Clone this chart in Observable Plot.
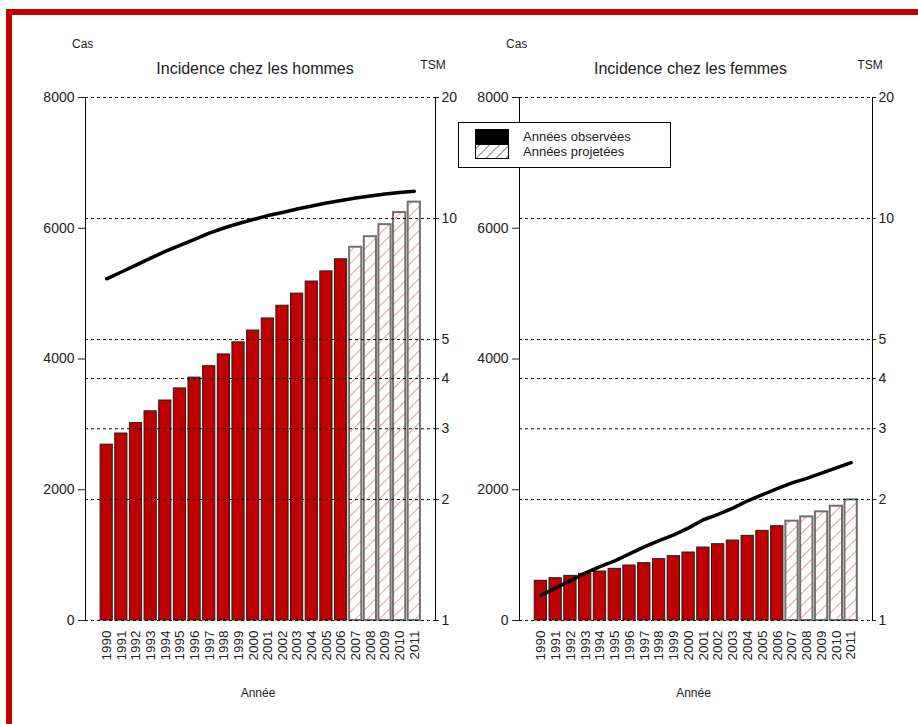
<!DOCTYPE html>
<html lang="fr">
<head>
<meta charset="utf-8">
<script src="https://cdn.jsdelivr.net/npm/d3@7"></script>
<script src="https://cdn.jsdelivr.net/npm/@observablehq/plot@0.6"></script>
<style>
  html, body { margin: 0; padding: 0; background: #fff; }
  #page { position: relative; width: 918px; height: 724px; overflow: hidden;
          font-family: "Liberation Sans", Arial, sans-serif; color: #222; }
  .layer { position: absolute; left: 0; top: 0; }
  .lbl { position: absolute; line-height: 1; white-space: nowrap; }
  .frame-top { position: absolute; left: 6px; top: 9px; right: 0; height: 6px; background: #c00000; }
  .frame-left { position: absolute; left: 6px; top: 9px; bottom: 0; width: 6px; background: #c00000; }
  #legend { position: absolute; left: 458px; top: 122px; width: 211px; height: 44px;
            border: 1px solid #000; background: #fff; }
  #legend svg { position: absolute; left: 16px; top: 6px; }
  #legend .t { position: absolute; left: 64px; font-size: 13px; line-height: 1; }
</style>
</head>
<body>
<div id="page">
  <svg width="0" height="0" style="position:absolute">
    <defs>
      <pattern id="hatch-red" patternUnits="userSpaceOnUse" width="8.5" height="8.5" patternTransform="rotate(45)">
        <rect width="8.5" height="8.5" fill="#fff"></rect>
        <line x1="0" y1="0" x2="0" y2="8.5" stroke="#e05050" stroke-width="1.1"></line>
      </pattern>
      <pattern id="hatch-black" patternUnits="userSpaceOnUse" width="7" height="7" patternTransform="rotate(45)">
        <rect width="7" height="7" fill="#fff"></rect>
        <line x1="0" y1="0" x2="0" y2="7" stroke="#000" stroke-width="1"></line>
      </pattern>
    </defs>
  </svg>
  <div class="frame-top"></div>
  <div class="frame-left"></div>
</div>
<script>
// Années et séries : cas incidents et taux standardisé (TSM)
const years = [1990, 1991, 1992, 1993, 1994, 1995, 1996, 1997, 1998, 1999, 2000,
               2001, 2002, 2003, 2004, 2005, 2006, 2007, 2008, 2009, 2010, 2011];
const firstProjectedYear = 2007;

const casHommes = [2690, 2860, 3020, 3200, 3365, 3550, 3715, 3890, 4070, 4255, 4435,
                   4620, 4815, 5000, 5185, 5340, 5525, 5710, 5870, 6055, 6240, 6400];
const tsmHommes = [7.08, 7.36, 7.66, 7.97, 8.28, 8.57, 8.87, 9.20, 9.47, 9.72, 9.94,
                   10.17, 10.35, 10.56, 10.74, 10.93, 11.09, 11.25, 11.38, 11.51, 11.61, 11.69];

const casFemmes = [607, 647, 683, 714, 749, 790, 841, 877, 938, 984, 1040,
                   1116, 1167, 1223, 1295, 1371, 1442, 1519, 1585, 1662, 1748, 1845];
const tsmFemmes = [1.154, 1.205, 1.257, 1.312, 1.362, 1.407, 1.464, 1.525, 1.581, 1.633, 1.700,
                   1.781, 1.837, 1.904, 1.985, 2.057, 2.129, 2.199, 2.258, 2.326, 2.396, 2.469];

const casTicks = [0, 2000, 4000, 6000, 8000];
const tsmTicks = [1, 2, 3, 4, 5, 10, 20];

const W = 918, H = 724, TOP = 97, BOTTOM = 104;
const FONT = '"Liberation Sans", Arial, sans-serif';
const page = document.getElementById("page");

function addLayer(node) {
  const div = document.createElement("div");
  div.className = "layer";
  div.appendChild(node);
  page.appendChild(div);
}

function addLabel(text, {left, top, size, center = false, width = 0}) {
  const d = document.createElement("div");
  d.className = "lbl";
  d.textContent = text;
  d.style.fontSize = size + "px";
  d.style.top = top + "px";
  if (center) {
    d.style.left = (left - width / 2) + "px";
    d.style.width = width + "px";
    d.style.textAlign = "center";
  } else {
    d.style.left = left + "px";
  }
  page.appendChild(d);
}

function panel({cas, tsm, left, right, title}) {
  const rows = years.map((year, i) => ({year, cas: cas[i], tsm: tsm[i], projected: year >= firstProjectedYear}));
  const xScale = {type: "band", domain: years, paddingInner: 0.167, paddingOuter: 1.03, round: false};
  const common = {
    width: W, height: H,
    marginLeft: left, marginRight: W - right, marginTop: TOP, marginBottom: BOTTOM,
    style: {background: "transparent", overflow: "visible", fontFamily: FONT, color: "#222"}
  };

  // Barres des cas (axe gauche, échelle linéaire)
  addLayer(Plot.plot({
    ...common,
    x: xScale,
    y: {domain: [0, 8000]},
    marks: [
      Plot.barY(rows.filter(d => !d.projected), {x: "year", y: "cas", fill: "#c00000", stroke: "#1e1e1e", strokeWidth: 1}),
      Plot.barY(rows.filter(d => d.projected), {x: "year", y: "cas", fill: "url(#hatch-red)", stroke: "#707070", strokeWidth: 2}),
      Plot.axisY({ticks: casTicks, tickFormat: d => String(d), tickSize: 7, tickPadding: 4, label: null, fontSize: 14}),
      Plot.axisX({tickSize: 0, tickPadding: 10, tickRotate: -90, tickFormat: d => String(d), label: null, fontSize: 13.5}),
      Plot.frame({anchor: "left", stroke: "#000"})
    ]
  }));

  // Taux standardisé (axe droit, échelle logarithmique) et lignes de repère
  addLayer(Plot.plot({
    ...common,
    x: {...xScale, axis: null},
    y: {type: "log", domain: [1, 20]},
    marks: [
      Plot.ruleY(tsmTicks, {stroke: "#111", strokeWidth: 1.1, strokeDasharray: "3,3"}),
      Plot.line(rows, {x: "year", y: "tsm", stroke: "#000", strokeWidth: 3.5, strokeLinejoin: "round", strokeLinecap: "round"}),
      Plot.axisY({anchor: "right", ticks: tsmTicks, tickFormat: d => String(d), tickSize: 3, tickPadding: 3, label: null, fontSize: 14}),
      Plot.frame({anchor: "right", stroke: "#000"})
    ]
  }));

  addLabel("Cas", {left: left - 13, top: 38, size: 12});
  addLabel(title, {left: (left + right) / 2 - 5, top: 60.5, size: 16, center: true, width: 320});
  addLabel("TSM", {left: right - 2, top: 59, size: 12, center: true, width: 60});
  addLabel("Année", {left: (left + right) / 2 - 2, top: 686.5, size: 12, center: true, width: 100});
}

panel({cas: casHommes, tsm: tsmHommes, left: 85, right: 435, title: "Incidence chez les hommes"});
panel({cas: casFemmes, tsm: tsmFemmes, left: 519, right: 872, title: "Incidence chez les femmes"});

// Légende
const legend = document.createElement("div");
legend.id = "legend";
legend.innerHTML =
  '<svg width="34" height="31">' +
  '<rect x="0.5" y="0.5" width="33" height="14" fill="#000" stroke="#000"></rect>' +
  '<rect x="0.5" y="15.5" width="33" height="14" fill="url(#hatch-black)" stroke="#000"></rect>' +
  '</svg>' +
  '<div class="t" style="top:7px">Années observées</div>' +
  '<div class="t" style="top:22px">Années projetées</div>';
page.appendChild(legend);
</script>
</body>
</html>
